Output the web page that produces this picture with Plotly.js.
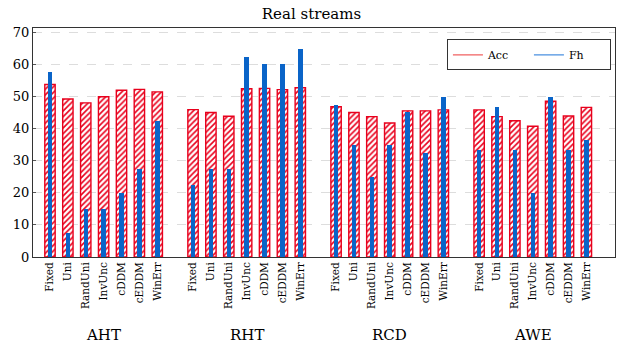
<!DOCTYPE html>
<html>
<head>
<meta charset="utf-8">
<script src="https://cdn.plot.ly/plotly-3.0.1.min.js"></script>
<style>
  html, body { margin: 0; padding: 0; background: #fff; }
  #chart { width: 623px; height: 350px; }
</style>
</head>
<body>
<div id="chart"></div>
<script>
// streams and methods
var streams = ['AHT', 'RHT', 'RCD', 'AWE']
var methods = ['Fixed', 'Uni', 'RandUni', 'InvUnc', 'cDDM', 'cEDDM', 'WinErr']

// accuracy per stream (order of methods)
var accAHT = [53.7, 49.2, 48.0, 49.9, 51.9, 52.2, 51.4]
var accRHT = [45.9, 45.0, 43.8, 52.4, 52.5, 52.1, 52.7]
var accRCD = [46.8, 45.0, 43.7, 41.7, 45.5, 45.5, 45.8]
var accAWE = [45.8, 43.7, 42.4, 40.7, 48.5, 43.9, 46.6]

// Fh per stream
var fhAHT = [57.5, 7.4, 14.8, 14.8, 19.8, 27.4, 42.3]
var fhRHT = [22.4, 27.4, 27.4, 62.4, 60.0, 60.0, 64.8]
var fhRCD = [47.3, 34.8, 24.9, 34.8, 45.0, 32.4, 49.9]
var fhAWE = [33.3, 46.6, 33.3, 19.8, 49.9, 33.3, 36.5]

var accAll = [accAHT, accRHT, accRCD, accAWE]
var fhAll = [fhAHT, fhRHT, fhRCD, fhAWE]

// one slot per method plus one empty slot between streams
var slot = methods.length + 1
var xs = [], acc = [], fh = [], tickText = []
streams.forEach(function (s, g) {
  methods.forEach(function (m, i) {
    xs.push(g * slot + i)
    acc.push(accAll[g][i])
    fh.push(fhAll[g][i])
    tickText.push(m)
  })
})

var serif = '"DejaVu Serif", serif'
var red = '#e8001c'
var blue = '#0a64c8'

var traceAcc = {
  x: xs,
  y: acc,
  type: 'bar',
  width: 0.58,
  showlegend: false,
  marker: {
    color: '#ffffff',
    line: { color: red, width: 1.4 },
    pattern: { shape: '/', fgcolor: red, bgcolor: '#ffffff', size: 4, solidity: 0.4 }
  },
  hoverinfo: 'y'
}

var traceFh = {
  x: xs,
  y: fh,
  type: 'bar',
  width: 0.25,
  showlegend: false,
  marker: { color: blue, line: { width: 0 } },
  hoverinfo: 'y'
}

// legend entries drawn as lines
var legAcc = { x: [null], y: [null], type: 'scatter', mode: 'lines', name: 'Acc', line: { color: '#f06060', width: 1.2 } }
var legFh = { x: [null], y: [null], type: 'scatter', mode: 'lines', name: 'Fh', line: { color: '#4a90e0', width: 1.2 } }

var annotations = streams.map(function (s, g) {
  return {
    x: g * slot + (methods.length - 1) / 2,
    y: -0.34,
    xref: 'x',
    yref: 'paper',
    text: s,
    showarrow: false,
    yanchor: 'middle',
    font: { family: serif, size: 15, color: '#000' }
  }
})

var layout = {
  width: 623,
  height: 350,
  margin: { l: 33, r: 8, t: 28, b: 93 },
  paper_bgcolor: '#fff',
  plot_bgcolor: '#fff',
  barmode: 'overlay',
  title: {
    text: 'Real streams',
    font: { family: serif, size: 15, color: '#000' },
    x: 0.5,
    xanchor: 'center',
    y: 0.96,
    yanchor: 'middle'
  },
  xaxis: {
    range: [-0.95, 31.6],
    tickvals: xs,
    ticktext: tickText,
    tickangle: -90,
    tickfont: { family: serif, size: 10.5, color: '#000' },
    showgrid: false,
    zeroline: false,
    showline: true,
    mirror: true,
    linecolor: '#333',
    linewidth: 1,
    ticks: ''
  },
  yaxis: {
    range: [0, 71.3],
    tickvals: [0, 10, 20, 30, 40, 50, 60, 70],
    tickfont: { family: serif, size: 13, color: '#000' },
    showgrid: true,
    gridcolor: '#dddddd',
    griddash: 'dash',
    gridwidth: 1,
    zeroline: false,
    showline: true,
    mirror: true,
    linecolor: '#333',
    linewidth: 1,
    ticks: 'inside',
    ticklen: 3,
    tickcolor: '#555'
  },
  legend: {
    orientation: 'h',
    x: 0.993,
    xanchor: 'right',
    y: 0.95,
    yanchor: 'top',
    bgcolor: '#fff',
    bordercolor: '#333',
    borderwidth: 1,
    font: { family: serif, size: 11, color: '#000' },
    itemwidth: 30,
    entrywidth: 36
  },
  annotations: annotations,
  bargap: 0
}

Plotly.newPlot('chart', [traceAcc, traceFh, legAcc, legFh], layout, { displayModeBar: false, staticPlot: true })
</script>
</body>
</html>
